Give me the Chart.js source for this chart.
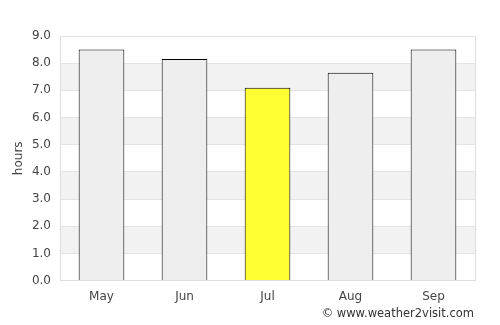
<!DOCTYPE html>
<html>
<head>
<meta charset="utf-8">
<script src="https://cdn.jsdelivr.net/npm/chart.js@4"></script>
<style>
  html, body { margin: 0; padding: 0; background: #fff; }
  #wrap { position: relative; width: 500px; height: 325px; }
  #credit { position: absolute; right: 26px; top: 306px; font: 11.5px "DejaVu Sans", sans-serif; color: #333; }
</style>
</head>
<body>
<div id="wrap">
  <canvas id="sunshine" width="500" height="325"></canvas>
  <div id="credit">© www.weather2visit.com</div>
</div>
<script>
const months = ['May', 'Jun', 'Jul', 'Aug', 'Sep'];
const hours = [8.5, 8.15, 7.1, 7.65, 8.5];
const barColors = ['#eeeeee', '#eeeeee', '#ffff33', '#eeeeee', '#eeeeee'];

// grey bands behind the bars (1-2, 3-4, 5-6, 7-8)
const bands = {
  id: 'bands',
  beforeDraw(chart) {
    const { ctx, chartArea, scales } = chart;
    ctx.save();
    ctx.fillStyle = '#f2f2f2';
    for (let v = 1; v < 9; v += 2) {
      const top = scales.y.getPixelForValue(v + 1);
      const bot = scales.y.getPixelForValue(v);
      ctx.fillRect(chartArea.left, top, chartArea.right - chartArea.left, bot - top);
    }
    ctx.restore();
  }
};

new Chart(document.getElementById('sunshine'), {
  type: 'bar',
  data: {
    labels: months,
    datasets: [{
      data: hours,
      backgroundColor: barColors,
      borderColor: '#000',
      borderWidth: 1,
      barPercentage: 0.55,
      categoryPercentage: 1
    }]
  },
  options: {
    responsive: false,
    animation: false,
    layout: { padding: { top: 36, right: 25, bottom: 20, left: 12 } },
    plugins: { legend: { display: false }, tooltip: { enabled: false } },
    scales: {
      x: {
        grid: { display: false },
        border: { color: '#dddddd' },
        ticks: { color: '#444', font: { family: 'DejaVu Sans', size: 12 }, padding: 1 }
      },
      y: {
        min: 0,
        max: 9,
        afterFit(scale) { scale.width = 48; },
        grid: { color: '#e3e3e3', drawTicks: false },
        border: { color: '#dddddd' },
        ticks: {
          stepSize: 1,
          color: '#444',
          padding: 9,
          font: { family: 'DejaVu Sans', size: 12 },
          callback: v => v.toFixed(1)
        },
        title: { display: true, text: 'hours', color: '#444', font: { family: 'DejaVu Sans', size: 12 }, padding: 0 }
      }
    }
  },
  plugins: [bands, {
    id: 'rightEdge',
    afterDraw(chart) {
      const { ctx, chartArea } = chart;
      ctx.save();
      ctx.strokeStyle = '#dddddd';
      ctx.beginPath();
      ctx.moveTo(chartArea.right + 0.5, chartArea.top);
      ctx.lineTo(chartArea.right + 0.5, chartArea.bottom);
      ctx.stroke();
      ctx.restore();
    }
  }]
});
</script>
</body>
</html>
